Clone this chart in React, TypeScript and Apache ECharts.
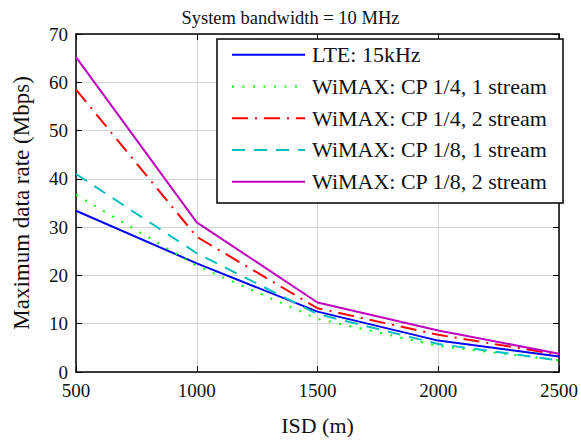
import React, { useEffect, useRef } from "react";
import * as echarts from "echarts";

const isd = [500, 1000, 1500, 2000, 2500];
const lte15k = [33.4, 22.5, 12.5, 6.5, 3.2];
const wimaxCp14One = [36.7, 22.0, 11.0, 5.4, 2.4];
const wimaxCp14Two = [58.5, 28.0, 13.2, 7.7, 3.6];
const wimaxCp18One = [41.0, 24.6, 12.0, 5.8, 2.4];
const wimaxCp18Two = [65.2, 31.0, 14.4, 8.6, 3.8];

const seriesNames = [
  "LTE: 15kHz",
  "WiMAX: CP 1/4, 1 stream",
  "WiMAX: CP 1/4, 2 stream",
  "WiMAX: CP 1/8, 1 stream",
  "WiMAX: CP 1/8, 2 stream",
];
const seriesValues = [lte15k, wimaxCp14One, wimaxCp14Two, wimaxCp18One, wimaxCp18Two];
const seriesColors = ["#0000ff", "#00ff00", "#ff0000", "#00bfbf", "#bf00bf"];
const seriesDash: any[] = ["solid", [2, 8.5], [16, 7, 2, 7], [13, 9], "solid"];

const FONT = "serif";
const TXT = "#111111";

export default function App() {
  const ref = useRef<HTMLDivElement>(null);
  useEffect(() => {
    if (!ref.current) return;
    const chart = echarts.init(ref.current, null, { renderer: "svg" });
    const series = seriesNames.map((name, i) => ({
      name,
      type: "line",
      xAxisIndex: 0,
      yAxisIndex: 0,
      data: isd.map((x, j) => [x, seriesValues[i][j]]),
      symbol: "none",
      showSymbol: false,
      lineStyle: { color: seriesColors[i], width: 2, type: seriesDash[i], cap: "butt" },
      itemStyle: { color: seriesColors[i] },
      z: 2,
    }));
    chart.setOption({
      animation: false,
      backgroundColor: "#ffffff",
      textStyle: { fontFamily: FONT },
      title: {
        text: "System bandwidth = 10 MHz",
        left: "center",
        top: 3,
        textStyle: { fontFamily: FONT, fontSize: 18.5, fontWeight: "normal", color: TXT },
      },
      grid: { left: 76, right: 14, top: 34, bottom: 66, show: false },
      graphic: [
        {
          type: "rect",
          shape: { x: 217, y: 39, width: 346, height: 164 },
          style: { fill: "#ffffff", stroke: "#000000", lineWidth: 1.5 },
          z: 10,
        },
      ],
      legend: {
        show: true,
        orient: "vertical",
        left: 231,
        top: 39,
        padding: 0,
        itemGap: 0,
        itemWidth: 73,
        itemHeight: 14,
        z: 20,
        data: seriesNames,
        itemStyle: { opacity: 0 },
        textStyle: {
          fontFamily: FONT,
          fontSize: 22,
          color: TXT,
          lineHeight: 31.7,
          padding: [0, 0, 0, 2],
        },
      },
      xAxis: [
        {
          type: "value",
          min: 500,
          max: 2500,
          interval: 500,
          name: "ISD (m)",
          nameLocation: "middle",
          nameGap: 42,
          nameTextStyle: { fontFamily: FONT, fontSize: 22, color: TXT },
          axisLine: { show: true, onZero: false, lineStyle: { color: "#000", width: 1.5 } },
          axisTick: { show: true, inside: true, length: 6, lineStyle: { color: "#000", width: 1 } },
          axisLabel: {
            fontFamily: FONT,
            fontSize: 19,
            color: TXT,
            margin: 9,
            formatter: (v: number) => String(v),
          },
          splitLine: { show: true, lineStyle: { color: "#d4d4d4", width: 1 } },
        },
        {
          type: "value",
          position: "top",
          min: 500,
          max: 2500,
          interval: 500,
          axisLine: { show: true, onZero: false, lineStyle: { color: "#000", width: 1.5 } },
          axisTick: { show: true, inside: true, length: 6, lineStyle: { color: "#000", width: 1 } },
          axisLabel: { show: false },
          splitLine: { show: false },
        },
      ],
      yAxis: [
        {
          type: "value",
          min: 0,
          max: 70,
          interval: 10,
          name: "Maximum data rate (Mbps)",
          nameLocation: "middle",
          nameGap: 43,
          nameTextStyle: { fontFamily: FONT, fontSize: 23, color: TXT },
          axisLine: { show: true, onZero: false, lineStyle: { color: "#000", width: 1.5 } },
          axisTick: { show: true, inside: true, length: 6, lineStyle: { color: "#000", width: 1 } },
          axisLabel: {
            fontFamily: FONT,
            fontSize: 19,
            color: TXT,
            margin: 8,
            formatter: (v: number) => String(v),
          },
          splitLine: { show: true, lineStyle: { color: "#d4d4d4", width: 1 } },
        },
        {
          type: "value",
          position: "right",
          min: 0,
          max: 70,
          interval: 10,
          axisLine: { show: true, onZero: false, lineStyle: { color: "#000", width: 1.5 } },
          axisTick: { show: true, inside: true, length: 6, lineStyle: { color: "#000", width: 1 } },
          axisLabel: { show: false },
          splitLine: { show: false },
        },
      ],
      series,
    });
    return () => chart.dispose();
  }, []);
  return <div ref={ref} style={{ width: 581, height: 441, position: "absolute", left: 0, top: 0 }} />;
}
